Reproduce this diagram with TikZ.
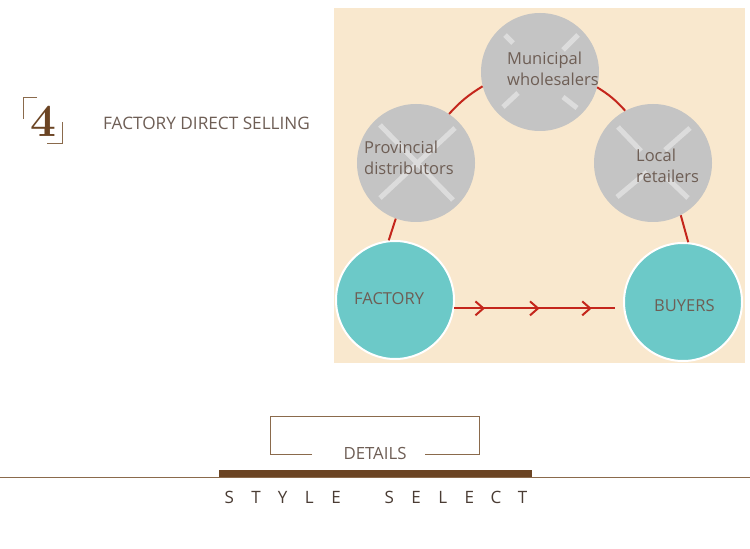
\documentclass[tikz,border=0pt]{standalone}
\usepackage{fontspec}
\setmainfont{Open Sans}
\usetikzlibrary{arrows.meta,decorations.markings,calc}
\definecolor{beige}{HTML}{F9E8CE}
\definecolor{grayc}{HTML}{C4C4C4}
\definecolor{barc}{HTML}{DCDCDC}
\definecolor{tealc}{HTML}{6CC9C8}
\definecolor{redc}{HTML}{C4261C}
\definecolor{txtc}{HTML}{6E5E55}
\definecolor{brownc}{HTML}{6B4423}
\definecolor{brownl}{HTML}{8A6A4C}
\definecolor{darkt}{HTML}{4A3C34}
\tikzset{
  graynode/.style={circle,fill=grayc,minimum size=118bp,inner sep=0pt},
  tealnode/.style={circle,fill=tealc,draw=white,line width=2bp,minimum size=118bp,inner sep=0pt},
  lbl/.style={text=txtc,font=\fontsize{16.5bp}{21bp}\selectfont,align=left,inner sep=0pt},
  xbar/.style={draw=barc,line width=5bp},
  link/.style={draw=redc,line width=2bp},
  flow/.style={draw=redc,line width=2bp,postaction={decorate},
    decoration={markings,
      mark=at position 0.19 with {\arrow{Straight Barb[length=8bp,width=14bp,line width=2bp]}},
      mark=at position 0.53 with {\arrow{Straight Barb[length=8bp,width=14bp,line width=2bp]}},
      mark=at position 0.855 with {\arrow{Straight Barb[length=8bp,width=14bp,line width=2bp]}}}},
  brk/.style={draw=brownl,line width=0.9bp},
  spaced/.style={text=darkt,font=\fontsize{17bp}{18bp}\selectfont,inner sep=0pt,anchor=center}
}
\begin{document}
\begin{tikzpicture}[x=1bp,y=-1bp]
\useasboundingbox (0,0) rectangle (750,549);
\fill[white] (0,0) rectangle (750,549);
% header
\draw[brk] (37,97) -- (23,97) -- (23,119);
\draw[brk] (62,122) -- (62,143) -- (47,143);
\node[text=brownc,font=\fontsize{46bp}{46bp}\selectfont,inner sep=0pt] (num) at (43,121) {\fontspec{Latin Modern Roman}\bfseries 4};
\node[text=txtc,font=\fontsize{17.2bp}{20bp}\selectfont,anchor=west,inner sep=0pt] (title) at (103,123) {FACTORY DIRECT SELLING};
% panel
\fill[beige] (334,8) rectangle (745,363);
% nodes
\node[graynode] (mun) at (540,72) {};
\node[graynode] (prov) at (416,163) {};
\node[graynode] (loc) at (653,163) {};
\node[tealnode] (fac) at (395,300) {};
\node[tealnode] (buy) at (683,302) {};
% crosses
\draw[xbar] ([shift={(-36,-38)}]prov.center) -- ([shift={(37,37)}]prov.center);
\draw[xbar] ([shift={(39,-35)}]prov.center) -- ([shift={(-36,35)}]prov.center);
\draw[xbar] ([shift={(-35,-37)}]mun.center) -- ([shift={(-27,-29)}]mun.center);
\draw[xbar] ([shift={(38,-37)}]mun.center) -- ([shift={(23,-22)}]mun.center);
\draw[xbar] ([shift={(-22,21)}]mun.center) -- ([shift={(-37,35)}]mun.center);
\draw[xbar] ([shift={(23,25)}]mun.center) -- ([shift={(37,36)}]mun.center);
\draw[xbar] ([shift={(-35,-36)}]loc.center) -- ([shift={(-12,-12)}]loc.center);
\draw[xbar] ([shift={(37,-35)}]loc.center) -- ([shift={(12,-13)}]loc.center);
\draw[xbar] ([shift={(-36,34)}]loc.center) -- ([shift={(-6,9)}]loc.center);
\draw[xbar] ([shift={(35,35)}]loc.center) -- ([shift={(14,15)}]loc.center);
% labels
\node[lbl,anchor=west] (munt) at (507,69) {Municipal\\wholesalers};
\node[lbl,anchor=west] (provt) at (364,158) {Provincial\\distributors};
\node[lbl,anchor=west] (loct) at (636,166) {Local\\retailers};
\node[lbl,anchor=west] (fact) at (354,299) {FACTORY};
\node[lbl,anchor=west] (buyt) at (654,306) {BUYERS};
% links
\draw[link] (prov.56) to[bend left=8] (mun.194);
\draw[link] (mun.345) to[bend left=8] (loc.118);
\draw[link] (prov.250) -- (fac.96);
\draw[link] (loc.298) -- (buy.85);
\coordinate (fend) at ([xshift=-8bp]fac.-8 -| buy.west);
\draw[flow] (fac.-8) -- (fend);
% bottom
\draw[brk] (312,454) -- (270,454) -- (270,416) -- (479,416) -- (479,454) -- (425,454);
\node[text=txtc,font=\fontsize{16.8bp}{18bp}\selectfont,inner sep=0pt] (det) at (375,453) {DETAILS};
\draw[draw=brownl,line width=1bp] (0,477) -- (750,477);
\fill[brownc] (219,470) rectangle (532,477);
\foreach \ch [count=\i from 0] in {S,T,Y,L,E,,S,E,L,E,C,T}{
  \node[spaced] (ss\i) at (229.3+26.67*\i,497) {\ch};
}
\end{tikzpicture}
\end{document}
